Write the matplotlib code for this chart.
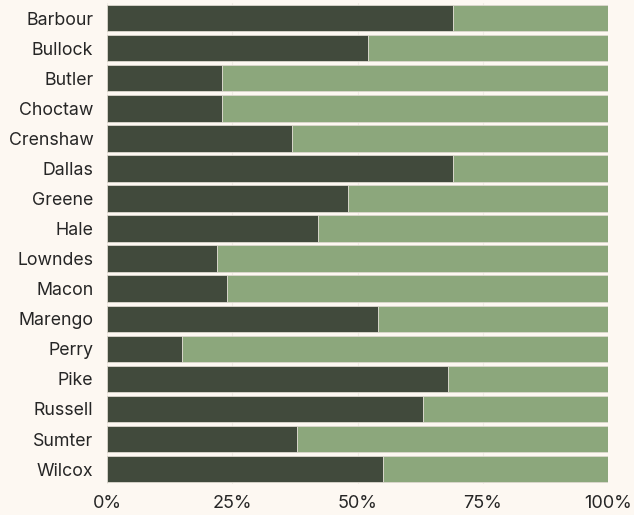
import matplotlib.pyplot as plt
from matplotlib.ticker import FuncFormatter
import numpy as np

counties = ['Barbour', 'Bullock', 'Butler', 'Choctaw', 'Crenshaw', 'Dallas', 'Greene', 'Hale',
            'Lowndes', 'Macon', 'Marengo', 'Perry', 'Pike', 'Russell', 'Sumter', 'Wilcox']
dark_share = [69, 52, 23, 23, 37, 69, 48, 42, 22, 24, 54, 15, 68, 63, 38, 55]
light_share = [100 - v for v in dark_share]

bg = '#fdf8f2'
dark = '#414a3c'
light = '#8ca77c'

plt.rcParams['font.family'] = ['Inter', 'DejaVu Sans']

fig = plt.figure(figsize=(6.34, 5.15), dpi=100, facecolor=bg)
ax = fig.add_axes([0.169, 0.060, 0.790, 0.934])
ax.set_facecolor(bg)

y = np.arange(len(counties))
ax.barh(y, dark_share, height=0.88, color=dark, edgecolor='#dcd8cf', linewidth=0.6, zorder=2)
ax.barh(y, light_share, left=dark_share, height=0.88, color=light, edgecolor='#dcd8cf',
        linewidth=0.6, zorder=2)

ax.set_ylim(len(counties) - 0.5, -0.5)
ax.set_xlim(0, 100)
ax.set_yticks(y)
ax.set_yticklabels(counties, fontsize=12.8, color='#262626')
ax.set_xticks([0, 25, 50, 75, 100])
ax.xaxis.set_major_formatter(FuncFormatter(lambda v, p: f'{v:.0f}%'))
ax.tick_params(axis='x', labelsize=13, length=0, pad=8, colors='#262626')
ax.tick_params(axis='y', length=0, pad=10)
ax.grid(axis='x', color='#f1ece4', linewidth=0.8, zorder=0)
for s in ax.spines.values():
    s.set_visible(False)

fig.savefig('out.png', dpi=100, facecolor=bg)
